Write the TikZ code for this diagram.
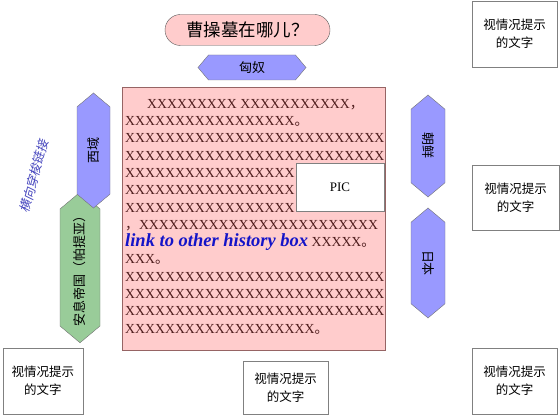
\documentclass[tikz,border=0pt]{standalone}
\usepackage{fontspec}
\setmainfont{Liberation Serif}
\newfontfamily\cjk{Noto Sans CJK SC}
\newfontfamily\cjkslant[FakeSlant=0.2]{Noto Sans CJK SC}
\usetikzlibrary{shapes.symbols, shapes.misc}

\definecolor{boxpink}{RGB}{255,204,204}
\definecolor{hexblue}{RGB}{153,153,255}
\definecolor{hexgreen}{RGB}{153,204,153}
\definecolor{xbrown}{RGB}{80,30,30}
\definecolor{linkblue}{RGB}{20,20,200}
\definecolor{labelblue}{RGB}{70,70,190}
\definecolor{boxedge}{RGB}{150,100,100}

\newcommand\xrow[1]{\foreach\k in {1,...,#1}{X}}
\newcommand\zhcomma{{\cjk ，}}
\newcommand\zhstop{{\cjk 。}}

\tikzset{
  hexbox/.style={signal, signal to=east and west, signal pointer angle=100,
    draw=black!55, inner sep=0pt, font=\cjk\fontsize{13}{13}\selectfont},
  notebox/.style={rectangle, draw=black!50, fill=white, inner sep=0pt,
    align=center, font=\cjk\fontsize{12.5}{18}\selectfont},
}

\begin{document}
\begin{tikzpicture}[x=1pt, y=-1pt]
  \useasboundingbox (0,0) rectangle (560,417);

  % title
  \node (title) [rounded rectangle, draw=black!65, fill=boxpink,
    minimum width=165pt, minimum height=31pt, inner sep=0pt,
    font=\cjk\fontsize{17.5}{17.5}\selectfont] at (247.5,30) {曹操墓在哪儿？};

  % neighbours round the box (green first, blue lies over it)
  \node (anxi) [hexbox, fill=hexgreen, rotate=90, minimum width=145pt, minimum height=40pt] at (80,267.5) {安息帝国（帕提亚）};
  \node (xiyu) [hexbox, fill=hexblue, rotate=90, minimum width=115pt, minimum height=33pt] at (93.5,150.5) {西域};
  \node (xiongnu) [hexbox, fill=hexblue, minimum width=108pt, minimum height=25pt] at (252,67.5) {匈奴};
  \node (chaoxian) [hexbox, fill=hexblue, rotate=-90, minimum width=102pt, minimum height=34pt] at (428,146) {朝鲜};
  \node (riben) [hexbox, fill=hexblue, rotate=-90, minimum width=110pt, minimum height=34pt] at (428,263) {日本};

  % history box
  \node (history) [rectangle, draw=boxedge, fill=boxpink, minimum width=263pt,
    minimum height=263pt, inner sep=0pt] at (253.5,218.5) {};
  \node (body) [anchor=north west, inner sep=0pt, align=left, text=xbrown,
    font=\fontsize{13.8}{17.3}\selectfont] at (125,99) {%
    \hspace*{22pt}\xrow{9} \xrow{11}\zhcomma\\
    \xrow{17}\zhstop\\
    \xrow{26}\\
    \xrow{26}\\
    \xrow{17}\\
    \xrow{17}\\
    \xrow{17}\\
    \zhcomma\xrow{24}\\
    {\fontsize{18.5}{17.3}\selectfont\bfseries\itshape\color{linkblue}link to other history box} \xrow{5}\zhstop\\
    \xrow{3}\zhstop\\
    \xrow{26}\\
    \xrow{26}\\
    \xrow{26}\\
    \xrow{19}\zhstop};
  \node (pic) [rectangle, draw=black!50, fill=white, minimum width=88pt,
    minimum height=48pt, font=\fontsize{13}{13}\selectfont] at (340,187) {PIC};

  % notes
  \node (noteA) [notebox, minimum width=85pt, minimum height=66pt] at (514.5,34) {视情况提示\\的文字};
  \node (noteB) [notebox, minimum width=87pt, minimum height=65pt] at (515.5,197.5) {视情况提示\\的文字};
  \node (noteC) [notebox, minimum width=80pt, minimum height=66pt] at (43,381) {视情况提示\\的文字};
  \node (noteD) [notebox, minimum width=85pt, minimum height=53pt] at (285.5,387.5) {视情况提示\\的文字};
  \node (noteE) [notebox, minimum width=85pt, minimum height=66pt] at (514.5,381) {视情况提示\\的文字};

  % side label
  \node (crosslink) [rotate=75, text=labelblue,
    font=\cjkslant\fontsize{12.5}{12.5}\selectfont] at (34,176) {横向穿梭链接};
\end{tikzpicture}
\end{document}
